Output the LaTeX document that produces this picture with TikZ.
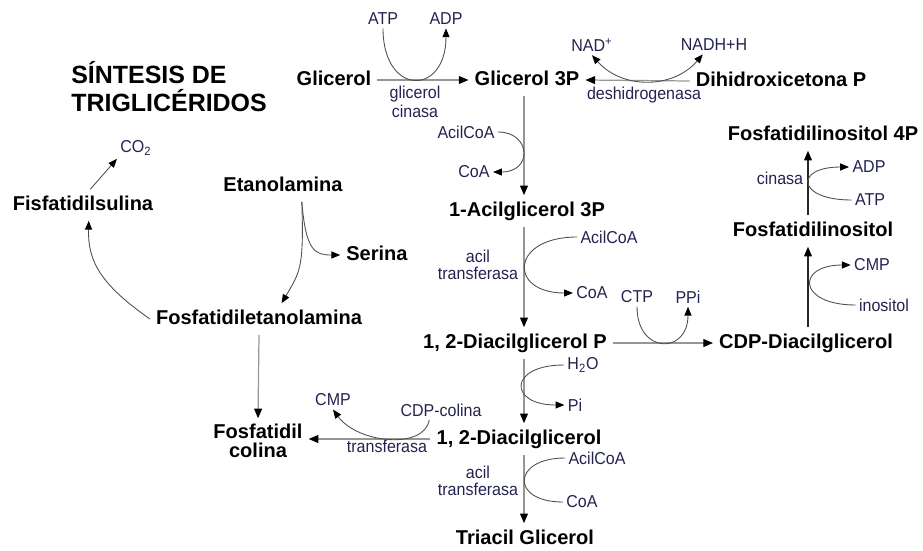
\documentclass[tikz,border=0pt]{standalone}
\usepackage{fontspec}
\setmainfont{Liberation Sans}
\newfontfamily\narrowfont[FakeStretch=0.93]{Liberation Sans}
\usetikzlibrary{arrows.meta}
\definecolor{cofactor}{RGB}{35,35,80}
\definecolor{pathline}{RGB}{150,150,150}
\definecolor{sideline}{RGB}{80,80,80}

\begin{document}
\begin{tikzpicture}[x=0.02cm, y=-0.02cm,
  headtitle/.style={anchor=west, align=left, inner sep=0pt, font=\bfseries\fontsize{14.2}{16}\selectfont},
  metab/.style={inner sep=2pt, outer sep=1.5pt, text height=8.5pt, text depth=2.5pt, font=\bfseries\fontsize{11.4}{13}\selectfont},
  metabtwo/.style={inner sep=2pt, outer sep=1.5pt, align=center, font=\bfseries\fontsize{11.4}{10.5}\selectfont},
  cofac/.style={inner sep=1pt, outer sep=1pt, text=cofactor, font=\narrowfont\fontsize{9.8}{10}\selectfont},
  enzyme/.style={cofac, align=center, font=\narrowfont\fontsize{9.8}{9.5}\selectfont},
  react/.style={draw=pathline, line width=0.7pt, -{Triangle[length=5.5pt, width=4.5pt, color=black]}},
  reactdark/.style={react, draw=black!85},
  sidearc/.style={draw=sideline, line width=0.5pt},
  sidearrow/.style={sidearc, -{Triangle[length=5pt, width=4pt, color=black]}},
  twoway/.style={sidearc, {Triangle[length=5pt, width=4pt, color=black]}-{Triangle[length=5pt, width=4pt, color=black]}}
]
\useasboundingbox (0,0) rectangle (923,551);

\node[headtitle] (title) at (71,87) {SÍNTESIS DE\\TRIGLICÉRIDOS};

\node[metab] (glicerol) at (334,80) {Glicerol};
\node[metab] (glicerolP) at (527,80) {Glicerol 3P};
\node[metab] (dhap) at (781,81) {Dihidroxicetona P};
\node[metab] (acilglic) at (527,211) {1-Acilglicerol 3P};
\node[metab] (diacP) at (515,343) {1, 2-Diacilglicerol P};
\node[metab] (cdpdiac) at (806,343) {CDP-Diacilglicerol};
\node[metab] (finos) at (813,231) {Fosfatidilinositol};
\node[metab] (finos4p) at (823,135) {Fosfatidilinositol 4P};
\node[metab] (etan) at (283,186) {Etanolamina};
\node[metab] (serina) at (377,255) {Serina};
\node[metab] (fetan) at (259,319) {Fosfatidiletanolamina};
\node[metab] (fsul) at (83,205) {Fisfatidilsulina};
\node[metab] (diac) at (519,439) {1, 2-Diacilglicerol};
\node[metab] (tag) at (525,539) {Triacil Glicerol};
\node[metabtwo] (fcol) at (258,441) {Fosfatidil\\colina};

\node[cofac] (atp1) at (383,19) {ATP};
\node[cofac] (adp1) at (446,19) {ADP};
\node[enzyme, font=\narrowfont\fontsize{9.8}{10.5}\selectfont] (gk) at (415,102) {glicerol\\cinasa};
\node[cofac] (nad) at (592,45) {NAD\textsuperscript{+}};
\node[cofac] (nadh) at (714,45) {NADH+H};
\node[cofac] (dh) at (644,95) {deshidrogenasa};
\node[cofac] (acilcoa1) at (466,132) {AcilCoA};
\node[cofac] (coa1) at (474,172) {CoA};
\node[enzyme] (at1) at (478,265) {acil\\transferasa};
\node[cofac] (acilcoa2) at (609,237) {AcilCoA};
\node[cofac] (coa2) at (592,293) {CoA};
\node[cofac] (ctp) at (637,297) {CTP};
\node[cofac] (ppi) at (688,297) {PPi};
\node[cofac] (h2o) at (583,365) {H\textsubscript{2}O};
\node[cofac] (pi) at (575,405) {Pi};
\node[cofac] (cmp2) at (333,400) {CMP};
\node[cofac] (cdpcol) at (441,410) {CDP-colina};
\node[cofac] (tr) at (387,446) {transferasa};
\node[enzyme] (at2) at (478,481) {acil\\transferasa};
\node[cofac] (acilcoa3) at (597,458) {AcilCoA};
\node[cofac] (coa3) at (582,502) {CoA};
\node[cofac] (cin) at (780,178) {cinasa};
\node[cofac] (adp2) at (869,167) {ADP};
\node[cofac] (atp2) at (870,200) {ATP};
\node[cofac] (cmp1) at (872,265) {CMP};
\node[cofac] (inos) at (884,305) {inositol};
\node[cofac] (co2) at (136,148) {CO\textsubscript{2}};

\coordinate (leftaxis) at (524,0);
\coordinate (rightaxis) at (808,0);

\draw[react] (glicerol.east) -- (glicerolP.west);
\draw[react] (dhap.west) -- (glicerolP.east);
\draw[react] (glicerolP.south -| leftaxis) -- (acilglic.north -| leftaxis);
\draw[react] (acilglic.south -| leftaxis) -- (diacP.north -| leftaxis);
\draw[react] (diacP.south -| leftaxis) -- (diac.north -| leftaxis);
\draw[react] (diac.south -| leftaxis) -- (tag.north -| leftaxis);
\draw[react] (diacP.east) -- (cdpdiac.west);
\draw[reactdark] (cdpdiac.north -| rightaxis) -- (finos.south -| rightaxis);
\draw[reactdark] (finos.north -| rightaxis) -- (finos4p.south -| rightaxis);
\draw[react] (fetan.south) -- (fcol.north);
\draw[react] (diac.west) -- (diac.west -| fcol.east);

\draw[sidearrow] (atp1.south) .. controls +(0,68) and +(0,68) .. (adp1.south);
\draw[twoway] (nad.south) .. controls +(30,34) and +(-30,35) .. (nadh.220);
\draw[sidearrow] (acilcoa1.east) .. controls +(33,0) and +(40,0) .. (coa1.east);
\draw[sidearrow] (acilcoa2.west) .. controls +(-67,0) and +(-65,0) .. (coa2.west);
\draw[sidearrow] (ctp.south) .. controls +(0,48) and +(0,48) .. (ppi.south);
\draw[sidearrow] (h2o.west) .. controls +(-56,0) and +(-56,0) .. (pi.west);
\draw[sidearc] (acilcoa3.west) .. controls +(-53,0) and +(-53,0) .. (coa3.west);
\draw[sidearrow] (atp2.west) .. controls +(-55,0) and +(-55,0) .. (adp2.west);
\draw[sidearrow] (inos.west) .. controls +(-58,0) and +(-55,0) .. (cmp1.west);
\draw[sidearrow] (cdpcol.220) .. controls +(-5,30) and +(25,34) .. (cmp2.south);
\draw[sidearrow] (etan.320) .. controls +(2,65) and +(19,-32) .. (fetan.35);
\draw[sidearrow] (etan.320) .. controls +(4,50) and +(-25,0) .. (serina.west);
\draw[sidearrow] (fetan.west) .. controls +(-50,-35) and +(-1,40) .. (fsul.290);
\draw[sidearrow] (fsul.65) -- (co2.south west);
\end{tikzpicture}
\end{document}
